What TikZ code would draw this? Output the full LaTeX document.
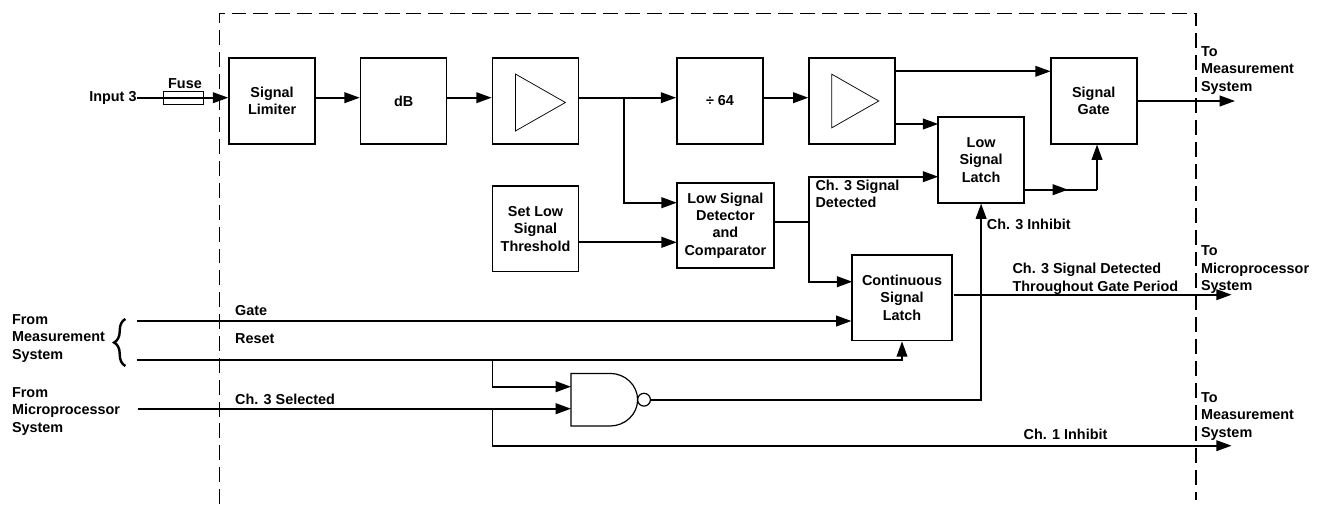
\documentclass[tikz,border=0pt]{standalone}
\usepackage{fontspec}
\setmainfont{Liberation Sans}
\usetikzlibrary{arrows.meta}
\usetikzlibrary{decorations.pathreplacing}
\tikzset{
    lbl/.style={inner sep=0pt, align=left, font=\fontsize{10.8}{13.1}\selectfont\bfseries},
    block/.style={draw, line width=1.3pt, inner sep=0pt, align=center, minimum width=64.5pt, minimum height=64pt, font=\fontsize{10.8}{13.1}\selectfont\bfseries},
    sig/.style={line width=1.3pt, -{Triangle[length=11.5pt,width=8pt]}},
    wire/.style={line width=1.3pt}
}
\tikzset{
    ampTri/.pic={
		\draw[line width=0.55pt] (-25,-28.5) -- (25,0) -- (-25,28.5) -- cycle;
	}
}
\tikzset{
    nandGate/.pic={
		\draw[line width=0.9pt] (0,-26.3) -- (39,-26.3) .. controls (54.2,-26.3) and (66.6,-14.5) .. (66.6,0)
			.. controls (66.6,14.5) and (54.2,26.3) .. (39,26.3) -- (0,26.3) -- cycle;
		\draw[line width=0.9pt] (73,0) circle (6.4);
		\coordinate (-out) at (79.4,0);
		\coordinate (-a) at (0,-13);
		\coordinate (-b) at (0,9);
	}
}
\begin{document}
\begin{tikzpicture}[x=0.75pt,y=-0.75pt]
	\useasboundingbox (0,0) rectangle (1317,504);
	\draw[line width=1.1pt, dash pattern=on 11.2pt off 5.2pt] (219.3,504) -- (219.3,13.3) -- (1196,13.3) -- (1196,500);
	% blocks
	\node[block] (limiter) at (272.1,101) {Signal\\Limiter};
	\node[block] (dB) at (403.6,101) {dB};
	\node[block] (amp) at (535.5,101) {};
	\node[block] (divider) at (720,101) {÷ 64};
	\node[block] (ampB) at (852.2,101) {};
	\node[block] (gate) at (1093.7,101) {Signal\\Gate};
	\node[block] (lowLatch) at (981.1,160) {Low\\Signal\\Latch};
	\node[block] (threshold) at (535.5,228.8) {Set Low\\Signal\\Threshold};
	\node[block, minimum width=72.75pt] (detector) at (725.4,225.5) {Low Signal\\Detector\\and\\Comparator};
	\node[block, minimum width=74.55pt] (contLatch) at (902,297.8) {Continuous\\Signal\\Latch};
	\pic at (540.4,102.5) {ampTri};
	\pic[scale=0.94] at (855.3,101) {ampTri};
	\pic (nand) at (571,399.7) {nandGate};
	% labels
	\node[lbl, anchor=east] (input) at (136.8,97.7) {Input 3};
	\node[draw, line width=0.7pt, minimum width=30pt, minimum height=9.8pt, inner sep=0pt] (fuse) at (183.3,97.8) {};
	\node[lbl] (fuseText) at (185,84) {Fuse};
	\node[lbl, anchor=west] (toMeasA) at (1200.8,70.5) {To\\Measurement\\System};
	\node[lbl, anchor=west] (toMicro) at (1200.8,269.6) {To\\Microprocessor\\System};
	\node[lbl, anchor=west] (toMeasB) at (1200.8,416.5) {To\\Measurement\\System};
	\node[lbl, anchor=west] (fromMeas) at (11.8,338.5) {From\\Measurement\\System};
	\node[lbl, anchor=west] (fromMicro) at (11.8,411.5) {From\\Microprocessor\\System};
	\node[lbl, anchor=west] (gateText) at (234.9,311) {Gate};
	\node[lbl, anchor=west] (resetText) at (234.9,338.3) {Reset};
	\node[lbl, anchor=west] (selText) at (234.9,399) {Ch. 3 Selected};
	\node[lbl, anchor=west] (detText) at (815.3,194) {Ch. 3 Signal\\Detected};
	\node[lbl, anchor=west] (inhText) at (986.6,224) {Ch. 3 Inhibit};
	\node[lbl, anchor=west] (thruText) at (1012.3,279) {Ch. 3 Signal Detected\\Throughout Gate Period};
	\node[lbl] (inhOneText) at (1065.5,434) {Ch. 1 Inhibit};
	% signal path
	\draw[sig] (input.east) -- (input.east -| limiter.west);
	\draw[sig] (limiter.east |- input) -- (input -| dB.west);
	\draw[sig] (dB.east |- input) -- (input -| amp.west);
	\draw[sig] (amp.east |- input) -- (input -| divider.west);
	\draw[sig] (divider.east |- input) -- (input -| ampB.west);
	\coordinate (branchA) at (624.2,97.7);
	\coordinate (detTop) at (676.8,202.7);
	\coordinate (detLow) at (676.8,242.3);
	\draw[sig] (branchA) |- (detTop);
	\draw[sig] (threshold.east |- detLow) -- (detLow);
	% amplifier outputs
	\coordinate (gateTop) at (1050.6,71.3);
	\coordinate (latchTop) at (938.2,124);
	\draw[sig] (ampB.east |- gateTop) -- (gateTop);
	\draw[sig] (ampB.east |- latchTop) -- (latchTop);
	\coordinate (gateOut) at (1235,101);
	\draw[sig] (gate.east |- gateOut) -- (gateOut);
	% detector outputs
	\coordinate (detOut) at (809,222.3);
	\coordinate (latchIn) at (938.2,176.7);
	\coordinate (contIn) at (852.3,281.7);
	\draw[wire] (detector.east |- detOut) -- (detOut);
	\draw[sig] (detOut) |- (latchIn);
	\draw[sig] (detOut) |- (contIn);
	% low signal latch to gate
	\coordinate (latchOut) at (1024,189.7);
	\coordinate (gateKnee) at (1097,189.7);
	\draw[wire] (latchOut) -- (gateKnee);
	\draw[sig] (latchOut) -- (1068,189.7);
	\draw[sig] (gateKnee) -- (gate.south -| gateKnee);
	% gate and reset lines
	\coordinate (gateLine) at (136.8,321);
	\coordinate (resetLine) at (136.8,360.3);
	\coordinate (selLine) at (137.6,408.7);
	\draw[sig] (gateLine) -- (gateLine -| contLatch.west);
	\draw[sig] (resetLine) -| (contLatch.south);
	\coordinate (branchB) at (492.4,360.3);
	\coordinate (branchC) at (492.4,408.7);
	\draw[sig] (branchB) |- (nand-a);
	\draw[sig] (selLine) -- (selLine -| nand-b);
	\coordinate (inhOneEnd) at (1231.6,445.7);
	\draw[sig] (branchC) |- (inhOneEnd);
	\draw[sig] (nand-out) -| (lowLatch.south);
	\coordinate (thruStart) at (953.8,294.7);
	\coordinate (thruEnd) at (1231.6,294.7);
	\draw[sig] (thruStart) -- (thruEnd);
	% brace
	\coordinate (braceLow) at (125.4,366);
	\coordinate (braceTop) at (125.4,319);
	\draw[line width=1.8pt, decorate, decoration={brace, amplitude=8.5pt}] (braceLow) -- (braceTop);
\end{tikzpicture}
\end{document}
